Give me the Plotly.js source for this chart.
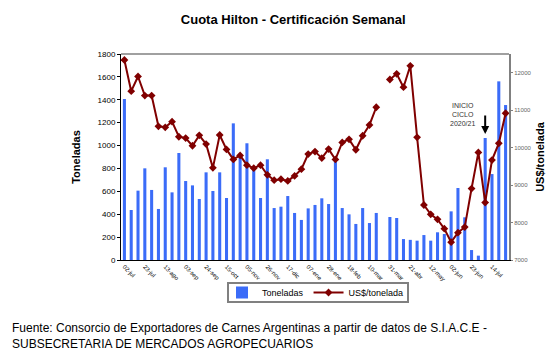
<!DOCTYPE html>
<html>
<head>
<meta charset="utf-8">
<script src="https://cdn.plot.ly/plotly-3.0.1.min.js"></script>
<style>
html,body{margin:0;padding:0;background:#fff;}
#chart{width:548px;height:360px;}
</style>
</head>
<body>
<div id="chart"></div>
<script>
// Weekly categories (02-jul-2019 ... 28-jul-2020)
var weeks = [
  "02-jul","09-jul","16-jul","23-jul","30-jul","06-ago","13-ago","20-ago","27-ago",
  "03-sep","10-sep","17-sep","24-sep","01-oct","08-oct","15-oct","22-oct","29-oct",
  "05-nov","12-nov","19-nov","26-nov","03-dic","10-dic","17-dic","24-dic","31-dic",
  "07-ene","14-ene","21-ene","28-ene","04-feb","11-feb","18-feb","25-feb","03-mar",
  "10-mar","17-mar","24-mar","31-mar","07-abr","14-abr","21-abr","28-abr","05-may",
  "12-may","19-may","26-may","02-jun","09-jun","16-jun","23-jun","30-jun","07-jul",
  "14-jul","21-jul","28-jul"
];
// Tick labels shown on the x axis
var tickLabels = ["02-jul","23-jul","13-ago","03-sep","24-sep","15-oct","05-nov","26-nov",
  "17-dic","07-ene","28-ene","18-feb","10-mar","31-mar","21-abr","12-may","02-jun","23-jun","14-jul"];

// Toneladas (bars)
var toneladas = [
  1407, 437, 606, 801, 612, 446, 810, 591, 935, 690,
  652, 533, 766, 603, 766, 542, 1194, 897, 1020, 795,
  542, 880, 454, 466, 559, 411, 350, 451, 481, 539,
  489, 870, 454, 399, 315, 454, 323, 411, null, 376,
  367, 183, 176, 169, 218, 169, 242, 227, 425, 629,
  373, 87, 38, 1066, 751, 1561, 1354
];
// US$/tonelada (line)
var usdTon = [
  12340, 11507, 11900, 11390, 11390, 10570, 10543, 10693, 10291, 10256,
  10050, 10328, 10095, 9460, 10337, 9953, 9685, 9792, 9533, 9452,
  9533, 9273, 9131, 9157, 9112, 9246, 9425, 9827, 9895, 9720,
  9961, 9685, 10140, 10221, 9943, 10318, 10605, 11078, null, 11819,
  11971, 11614, 12185, 10274, 8469, 8219, 8085, 7836, 7477, 7729,
  7879, 8908, 9873, 8533, 9667, 10114, 10918
];

var font = "Liberation Sans, Arial, sans-serif";

var traces = [
  {
    type: "bar", name: "Toneladas", x: weeks, y: toneladas,
    marker: {color: "#3b6cf8", line: {width: 0}},
    width: 0.45, yaxis: "y"
  },
  {
    type: "scatter", mode: "lines+markers", name: "US$/tonelada",
    x: weeks, y: usdTon, yaxis: "y2", connectgaps: false,
    line: {color: "#800000", width: 2},
    marker: {symbol: "diamond", size: 6, color: "#800000"}
  }
];

var layout = {
  width: 548, height: 360,
  margin: {l: 121, r: 39, t: 54, b: 100},
  paper_bgcolor: "#ffffff", plot_bgcolor: "#ffffff",
  font: {family: font, color: "#000"},
  showlegend: true,
  bargap: 0.5,
  title: {
    text: "<b>Cuota Hilton - Certificación Semanal</b>",
    font: {family: font, size: 13, color: "#000"},
    x: 0.535, xref: "container", xanchor: "center",
    y: 0.945, yref: "container", yanchor: "middle"
  },
  xaxis: {
    type: "category", range: [-0.5, 56.5],
    tickmode: "array", tickvals: tickLabels, ticktext: tickLabels,
    tickangle: 45, tickfont: {family: font, size: 6, color: "#000"},
    showline: true, linecolor: "#000", linewidth: 1,
    ticks: "", showgrid: false, zeroline: false, fixedrange: true
  },
  yaxis: {
    range: [0, 1800], dtick: 200, tick0: 0,
    tickfont: {family: font, size: 8, color: "#000"},
    showline: true, linecolor: "#000", linewidth: 1,
    ticks: "outside", ticklen: 3, tickcolor: "#000",
    showgrid: false, zeroline: false,
    title: {text: "<b>Toneladas</b>", font: {family: font, size: 11, color: "#000"}, standoff: 14}
  },
  yaxis2: {
    overlaying: "y", side: "right", range: [7000, 12500],
    tickvals: [7000, 8000, 9000, 10000, 11000, 12000],
    ticktext: ["7000", "8000", "9000", "10000", "11000", "12000"],
    tickfont: {family: font, size: 6, color: "#666"},
    showline: true, linecolor: "#808080", linewidth: 2,
    ticks: "outside", ticklen: 2, tickcolor: "#808080",
    showgrid: false, zeroline: false,
    title: {text: "<b>US$/tonelada</b>", font: {family: font, size: 11, color: "#000"}, standoff: 6}
  },
  legend: {
    orientation: "h", x: (222 - 121) / 388, xanchor: "left",
    y: (260 - 292.5) / 206, yanchor: "middle",
    borderwidth: 0, bgcolor: "rgba(0,0,0,0)",
    font: {family: font, size: 9, color: "#000"},
    itemwidth: 30, tracegroupgap: 0
  },
  shapes: [
    {type: "line", xref: "paper", yref: "paper", x0: 0, x1: 1, y0: 1, y1: 1,
     line: {color: "#808080", width: 1.5}},
    {type: "rect", xref: "paper", yref: "paper",
     x0: (228 - 121) / 388, x1: (408 - 121) / 388,
     y0: (260 - 283) / 206, y1: (260 - 302) / 206,
     line: {color: "#808080", width: 2}, fillcolor: "rgba(0,0,0,0)", layer: "below"}
  ],
  annotations: [
    {
      text: "INICIO<br>CICLO<br>2020/21", x: 49.6, xref: "x", y: (260 - 114.5) / 206, yref: "paper",
      showarrow: false, font: {family: font, size: 7, color: "#333"},
      xanchor: "center", yanchor: "middle", align: "center"
    },
    {
      text: "", x: "07-jul", xref: "x", y: (260 - 134) / 206, yref: "paper",
      showarrow: true, arrowhead: 2, arrowsize: 0.8, arrowwidth: 2, arrowcolor: "#000",
      ax: 0, ay: -20
    },
    {
      text: "Fuente: Consorcio de Exportadores de Carnes Argentinas a partir de datos de S.I.A.C.E -<br>SUBSECRETARIA DE MERCADOS AGROPECUARIOS",
      xref: "paper", yref: "paper", x: -111 / 388, y: -59 / 206,
      xanchor: "left", yanchor: "top", align: "left", showarrow: false,
      font: {family: font, size: 12, color: "#000"}
    }
  ]
};

Plotly.newPlot("chart", traces, layout, {displayModeBar: false, staticPlot: true});
</script>
</body>
</html>
